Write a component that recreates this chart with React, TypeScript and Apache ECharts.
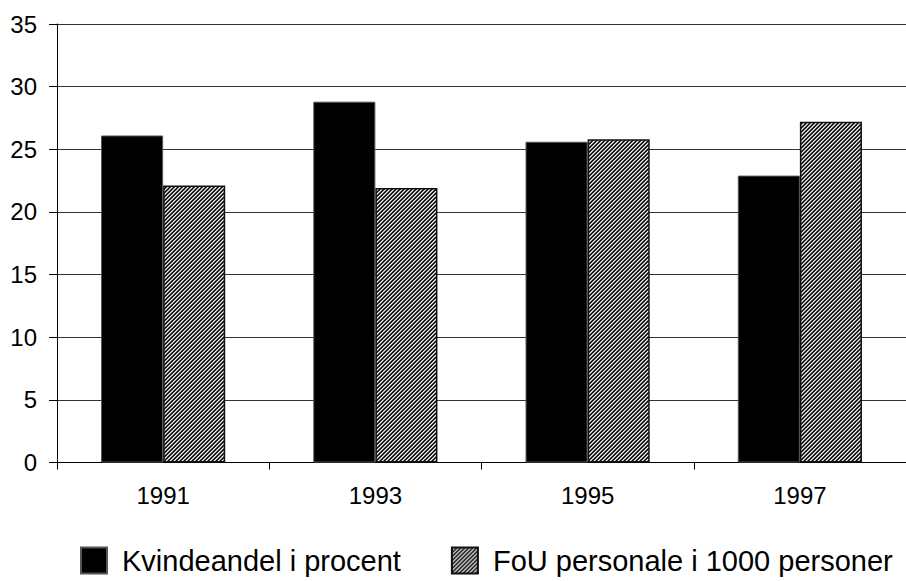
import React, { useEffect, useRef } from "react";
import * as echarts from "echarts";

const categories = ["1991", "1993", "1995", "1997"];
const kvindeandel = [26.1, 28.8, 25.6, 22.9];
const fouPersonale = [22.1, 21.9, 25.8, 27.2];
const seriesNames = ["Kvindeandel i procent", "FoU personale i 1000 personer"];
const yTicks = { min: 0, max: 35, interval: 5 };

function makeHatch(): HTMLCanvasElement {
  const c = document.createElement("canvas");
  c.width = 4;
  c.height = 4;
  const ctx = c.getContext("2d")!;
  const cols = ["#000000", "#404040", "#f0f0f0", "#909090"];
  for (let x = 0; x < 4; x++) {
    for (let y = 0; y < 4; y++) {
      ctx.fillStyle = cols[(x + y) % 4];
      ctx.fillRect(x, y, 1, 1);
    }
  }
  return c;
}

export default function App() {
  const ref = useRef<HTMLDivElement>(null);
  useEffect(() => {
    document.body.style.margin = "0";
    const chart = echarts.init(ref.current!, null, { renderer: "svg" });
    const hatch = { image: makeHatch(), repeat: "repeat" };
    const font = "Liberation Sans, Arial, sans-serif";
    chart.setOption({
      animation: false,
      backgroundColor: "#ffffff",
      textStyle: { fontFamily: font, color: "#000" },
      grid: { left: 57, top: 24, width: 856, height: 438.5, containLabel: false },
      legend: {
        left: 80,
        top: 546,
        itemWidth: 26,
        itemHeight: 26,
        itemGap: 50,
        icon: "rect",
        padding: 0,
        textStyle: {
          fontSize: 29,
          lineHeight: 26,
          color: "#000",
          fontFamily: font,
          padding: [0, 0, 0, 10],
        },
        data: seriesNames,
      },
      xAxis: {
        type: "category",
        data: categories,
        axisLine: { lineStyle: { color: "#000", width: 1 } },
        axisTick: { show: true, length: 7, lineStyle: { color: "#000" } },
        axisLabel: { fontSize: 24, color: "#000", margin: 21, fontFamily: font },
        splitLine: { show: false },
      },
      yAxis: {
        type: "value",
        min: yTicks.min,
        max: yTicks.max,
        interval: yTicks.interval,
        axisLine: { show: true, lineStyle: { color: "#000", width: 1 } },
        axisTick: { show: true, length: 8, lineStyle: { color: "#000" } },
        axisLabel: { fontSize: 24, color: "#000", margin: 20, fontFamily: font },
        splitLine: { show: true, lineStyle: { color: "#333", width: 1 } },
      },
      series: [
        {
          name: seriesNames[0],
          type: "bar",
          data: kvindeandel,
          barGap: "0%",
          barCategoryGap: "41.5%",
          itemStyle: { color: "#000", borderColor: "#555", borderWidth: 1 },
        },
        {
          name: seriesNames[1],
          type: "bar",
          data: fouPersonale,
          barGap: "0%",
          barCategoryGap: "41.5%",
          itemStyle: { color: hatch, borderColor: "#111", borderWidth: 1.5 },
        },
      ],
    });
    return () => chart.dispose();
  }, []);
  return <div ref={ref} style={{ width: 906, height: 581 }} />;
}
